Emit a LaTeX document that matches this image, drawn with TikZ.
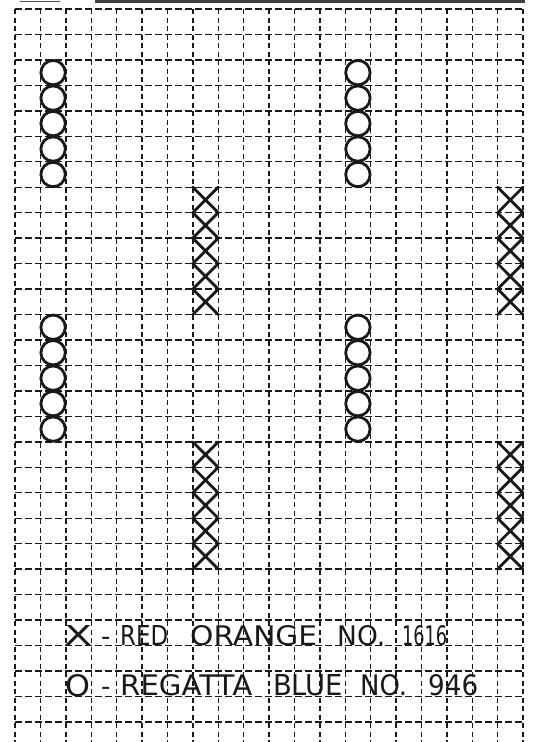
\documentclass[tikz,border=0pt]{standalone}
\usepackage{fontspec}
\setmainfont{DejaVu Sans}
\usepackage{graphicx}
\begin{document}
\begin{tikzpicture}[x=1pt,y=-1pt,
  hline/.style={line width=1.4pt, dash pattern=on 7pt off 3pt, black!90},
  vline/.style={line width=1.4pt, dash pattern=on 5pt off 3.5pt, black!90},
  stitchO/.style={line width=2.8pt, black!90},
  stitchX/.style={line width=2.8pt, black!90, line cap=round},
  lbl/.style={inner sep=0pt, anchor=base west, text=black!90}]
\useasboundingbox (0,0) rectangle (536,742);
\fill[white] (0,0) rectangle (536,742);
% top remnants
\draw[line width=1pt, black!70] (20,1.5) -- (60,1.5);
\draw[line width=3pt, black!75] (95,1.5) -- (525,1.5);
% grid
\foreach \k in {0,...,28}
  \draw[hline] (15,{9+25.46*\k}) -- (523,{9+25.46*\k});
\foreach \i in {0,...,20}
  \draw[vline] ({15+25.4*\i},9) -- ({15+25.4*\i},742);
% circles (O)
\foreach \r in {2,...,6,12,13,14,15,16}
  \foreach \c in {1,13}
    \draw[stitchO] ({15+25.4*(\c+0.5)},{9+25.46*(\r+0.5)}) circle (12.2);
% crosses (X)
\foreach \r in {7,...,11,17,18,19,20,21}
  \foreach \c in {7,19}
    \draw[stitchX] ({15+25.4*\c},{9+25.46*\r}) -- ({15+25.4*(\c+1)},{9+25.46*(\r+1)})
                   ({15+25.4*\c},{9+25.46*(\r+1)}) -- ({15+25.4*(\c+1)},{9+25.46*\r});
% legend line 1
\node[lbl] (x1) at (64,645) {\resizebox{28pt}{20pt}{X}};
\node[lbl] (d1) at (101,645) {\fontsize{26}{30}\selectfont -};
\node[lbl] (w11) at (120,645) {\resizebox{48pt}{20pt}{RED}};
\node[lbl] (w12) at (190,645) {\resizebox{127pt}{20pt}{ORANGE}};
\node[lbl] (w13) at (337,645) {\resizebox{48pt}{20pt}{NO.}};
\node[lbl] (w14) at (402,645) {\resizebox{45pt}{20pt}{1616}};
% legend line 2
\node[lbl] (o2) at (65,696) {\resizebox{25pt}{22pt}{O}};
\node[lbl] (d2) at (101,695) {\fontsize{26}{30}\selectfont -};
\node[lbl] (w21) at (120,695) {\resizebox{132pt}{21pt}{REGATTA}};
\node[lbl] (w22) at (273,695) {\resizebox{70pt}{21pt}{BLUE}};
\node[lbl] (w23) at (360,695) {\resizebox{47pt}{21pt}{NO.}};
\node[lbl] (w24) at (428,695) {\resizebox{50pt}{21pt}{946}};
\end{tikzpicture}
\end{document}
